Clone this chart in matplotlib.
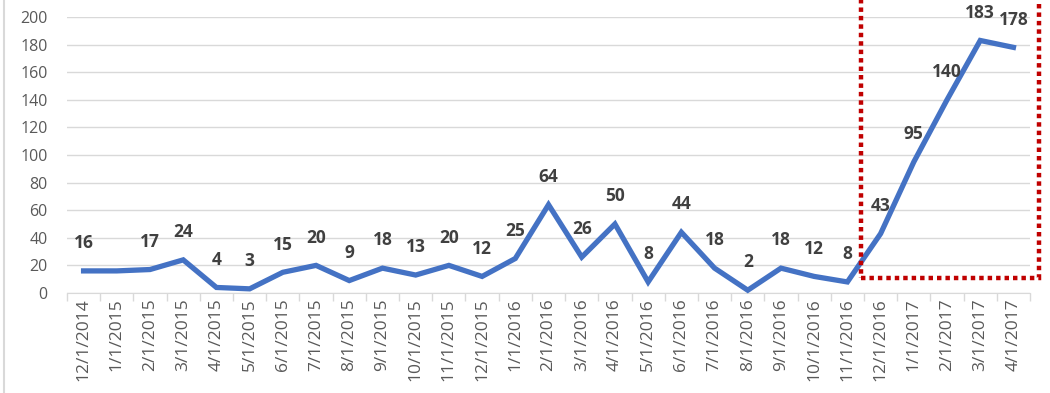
import matplotlib
matplotlib.use("Agg")
import matplotlib.pyplot as plt
from matplotlib.patches import Rectangle

dates = ["12/1/2014", "1/1/2015", "2/1/2015", "3/1/2015", "4/1/2015", "5/1/2015",
         "6/1/2015", "7/1/2015", "8/1/2015", "9/1/2015", "10/1/2015", "11/1/2015",
         "12/1/2015", "1/1/2016", "2/1/2016", "3/1/2016", "4/1/2016", "5/1/2016",
         "6/1/2016", "7/1/2016", "8/1/2016", "9/1/2016", "10/1/2016", "11/1/2016",
         "12/1/2016", "1/1/2017", "2/1/2017", "3/1/2017", "4/1/2017"]
values = [16, 16, 17, 24, 4, 3, 15, 20, 9, 18, 13, 20, 12, 25, 64, 26, 50, 8, 44,
          18, 2, 18, 12, 8, 43, 95, 140, 183, 178]
show_label = [True, False] + [True] * 27
yticks = [0, 20, 40, 60, 80, 100, 120, 140, 160, 180, 200]

plt.rcParams['font.family'] = ['Open Sans', 'DejaVu Sans']

fig = plt.figure(figsize=(10.5, 3.93), dpi=100)
ax = fig.add_axes([0.0638, 0.2545, 0.9172, 0.7022])

n = len(values)
x = list(range(n))
ax.plot(x, values, color="#4472C4", lw=3.8, solid_joinstyle="miter", zorder=3, clip_on=False)

for xi, v, s in zip(x, values, show_label):
    if s:
        ax.annotate(str(v), (xi, v), xytext=(0, 20), textcoords="offset points",
                    ha="center", va="center", fontsize=12.5, fontweight="bold",
                    color="#404040", zorder=4, annotation_clip=False)

ax.set_xlim(-0.5, n - 0.5)
ax.set_ylim(0, 200)
ax.set_yticks(yticks)
ax.set_yticklabels([str(t) for t in yticks], fontsize=11.5, color="#595959")
ax.grid(axis="y", color="#D9D9D9", lw=1)
ax.set_axisbelow(True)

ax.set_xticks([i - 0.5 for i in range(n + 1)])
ax.set_xticklabels([])
ax.set_xticks(x, minor=True)
ax.set_xticklabels(dates, minor=True, rotation=90, fontsize=12.5, color="#595959")
ax.tick_params(axis="x", which="major", length=6, color="#D9D9D9", width=1)
ax.tick_params(axis="x", which="minor", length=0, pad=4)
ax.tick_params(axis="y", length=0, pad=14)

for side in ["top", "right", "left"]:
    ax.spines[side].set_visible(False)
ax.spines["bottom"].set_color("#D9D9D9")

rect = Rectangle((23.42, 10.9), 28.78 - 23.42, 240 - 10.9, fill=False,
                 edgecolor="#C00000", lw=3.2, linestyle=(0, (1, 0.9)),
                 clip_on=False, zorder=5)
ax.add_patch(rect)

fig.add_artist(plt.Line2D([0.004, 0.004], [0, 1], color="#D9D9D9", lw=1.5))

fig.savefig("out.png", dpi=100)
